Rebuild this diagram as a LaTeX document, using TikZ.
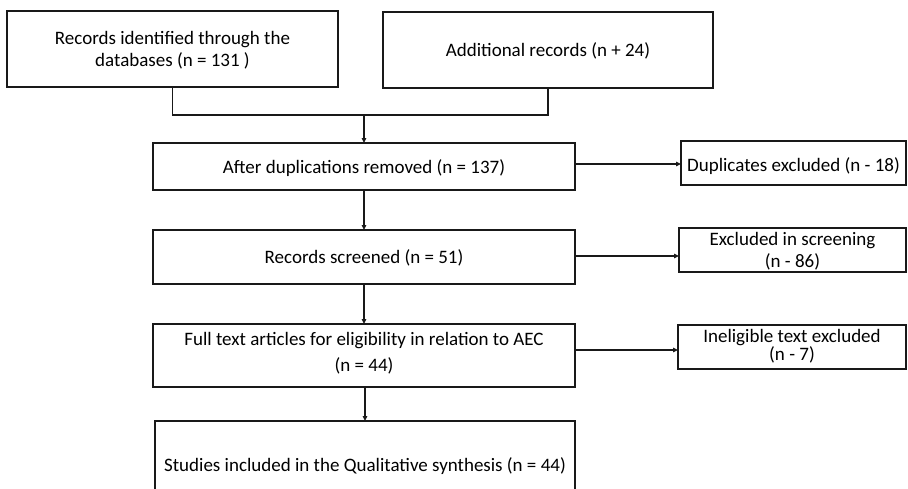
\documentclass[tikz,border=0pt]{standalone}
\usepackage{fontspec}
\setmainfont{Carlito}
\usetikzlibrary{arrows.meta}
\begin{document}
\begin{tikzpicture}[x=1pt,y=-1pt,
  box/.style={draw=black!90,line width=1.3pt,fill=white},
  lbl/.style={font=\fontsize{19}{22}\selectfont,align=center,inner sep=0pt},
  conn/.style={draw=black!90,line width=1.3pt},
  arr/.style={conn,-{Triangle[length=5pt,width=4.5pt]}}]
\useasboundingbox (0,0) rectangle (908,488);
\clip (0,0) rectangle (908,488);
% boxes
\draw[box] (7,11) rectangle (338,87);
\node[lbl] (b1) at (172.5,50) {Records identified through the\\databases (n = 131 )};
\coordinate (b1s) at (172.5,87);
\draw[box] (383,12) rectangle (713,88);
\node[lbl] (b2) at (548,51) {Additional records (n + 24)};
\coordinate (b2s) at (548,88);
\draw[box] (153,143) rectangle (575,190);
\node[lbl] (b3) at (364,168) {After duplications removed (n = 137)};
\draw[box] (681,141) rectangle (906,185);
\node[lbl] (d1) at (793.5,166) {Duplicates excluded (n - 18)};
\draw[box] (153,230) rectangle (575,284);
\node[lbl] (b4) at (364,258) {Records screened (n = 51)};
\draw[box] (679,228) rectangle (906,272);
\node[lbl] (d2) at (792.5,251) {Excluded in screening\\(n - 86)};
\draw[box] (153,324) rectangle (575,387);
\node[lbl,font=\fontsize{19}{26}\selectfont] (b5) at (364,353) {Full text articles for eligibility in relation to AEC\\(n = 44)};
\draw[box] (678,325) rectangle (906,369);
\node[lbl,font=\fontsize{19}{17}\selectfont] (d3) at (792,346) {Ineligible text excluded\\(n - 7)};
\draw[box] (155,421) rectangle (575,495);
\node[lbl] (b6) at (365,466) {Studies included in the Qualitative synthesis (n = 44)};
% connectors
\coordinate (j1) at (172.5,115);
\coordinate (j2) at (548,115);
\coordinate (jm) at (364,115);
\draw[conn] (b1s) -- (j1) -- (j2) -- (b2s);
\draw[arr] (jm) -- (364,143);
\draw[arr] (575,164) -- (681,164);
\draw[arr] (364,190) -- (364,230);
\draw[arr] (575,256) -- (679,256);
\draw[arr] (364,284) -- (364,324);
\draw[arr] (575,350) -- (678,350);
\draw[arr] (365,387) -- (365,421);
\end{tikzpicture}
\end{document}
